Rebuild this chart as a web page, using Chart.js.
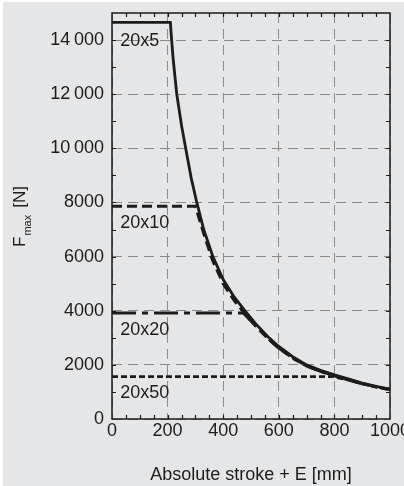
<!DOCTYPE html>
<html>
<head>
<meta charset="utf-8">
<script src="https://cdn.jsdelivr.net/npm/chart.js@4/dist/chart.umd.min.js"></script>
<style>
  html, body { margin: 0; padding: 0; background: #ffffff; }
  canvas { display: block; }
</style>
</head>
<body>
<canvas id="main-graph-canvas" width="404" height="486"></canvas>
<script>
// stroke [mm] / force [N]
const x20x5 = [0, 210, 213, 220, 233, 250, 265, 285, 305, 330, 363, 400, 440, 478, 520, 560, 600, 650, 700, 750, 800, 850, 900, 950, 1000]
const f20x5 = [14650, 14650, 14200, 13300, 12000, 10850, 10000, 8900, 8000, 7000, 6000, 5150, 4500, 4000, 3480, 3050, 2680, 2300, 2000, 1800, 1630, 1480, 1330, 1210, 1100]

const x20x10 = [0, 300, 330, 363, 400, 440, 478, 520, 560, 600, 650, 700, 750, 800, 850, 900, 950, 1000]
const f20x10 = [7860, 7860, 6850, 5830, 5000, 4370, 3890, 3400, 2980, 2620, 2250, 1960, 1760, 1600, 1450, 1310, 1190, 1090]

const x20x20 = [0, 472, 520, 560, 600, 650, 700, 750, 800, 850, 900, 950, 1000]
const f20x20 = [3915, 3915, 3410, 2990, 2620, 2250, 1960, 1760, 1600, 1450, 1300, 1185, 1085]

const x20x50 = [0, 790, 850, 900, 950, 1000]
const f20x50 = [1567, 1567, 1440, 1300, 1180, 1075]

const seriesNames = ['20x5', '20x10', '20x20', '20x50']

const xTicks = [0, 200, 400, 600, 800, 1000]
const xTickLabels = ['0', '200', '400', '600', '800', '1000']
const yTicks = [0, 2000, 4000, 6000, 8000, 10000, 12000, 14000]
const yTickLabels = ['0', '2000', '4000', '6000', '8000', '10\u2009000', '12\u2009000', '14\u2009000']

const INK = '#1c1c1c'
const BG = '#e5e6e8'
const FONT = '"Liberation Sans", Arial, sans-serif'

const toPoints = (xs, ys) => xs.map((x, i) => ({ x, y: ys[i] }))

// where the series names sit, in data units
const seriesLabelPos = [
  { x: 30, y: 13950 },
  { x: 30, y: 7250 },
  { x: 30, y: 3300 },
  { x: 30, y: 960 }
]

const framePlugin = {
  id: 'frame',
  beforeDraw(chart) {
    const ctx = chart.ctx
    ctx.save()
    ctx.fillStyle = '#ffffff'
    ctx.fillRect(0, 0, chart.width, chart.height)
    ctx.fillStyle = BG
    ctx.fillRect(3, 2, chart.width - 3, chart.height - 2)
    ctx.restore()
  },
  afterDraw(chart) {
    const { ctx, chartArea: a, scales } = chart
    const xs = scales.x
    const ys = scales.y
    ctx.save()
    ctx.strokeStyle = INK
    ctx.lineWidth = 1.5
    ctx.strokeRect(a.left, a.top, a.right - a.left, a.bottom - a.top)

    // inward ticks on all four sides
    ctx.lineWidth = 1.2
    ctx.beginPath()
    for (let v = 50; v < 1000; v += 50) {
      const px = Math.round(xs.getPixelForValue(v)) + 0.5
      ctx.moveTo(px, a.bottom); ctx.lineTo(px, a.bottom - 4)
      ctx.moveTo(px, a.top); ctx.lineTo(px, a.top + 4)
    }
    for (let v = 1000; v < 15000; v += 1000) {
      const py = Math.round(ys.getPixelForValue(v)) + 0.5
      ctx.moveTo(a.left, py); ctx.lineTo(a.left + 4, py)
      ctx.moveTo(a.right, py); ctx.lineTo(a.right - 4, py)
    }
    ctx.stroke()

    // series names
    ctx.fillStyle = INK
    ctx.font = '18px ' + FONT
    ctx.textBaseline = 'middle'
    ctx.textAlign = 'left'
    seriesNames.forEach((name, i) => {
      const p = seriesLabelPos[i]
      ctx.fillText(name, xs.getPixelForValue(p.x), ys.getPixelForValue(p.y))
    })

    // y title with subscript
    ctx.translate(25, 247)
    ctx.rotate(-Math.PI / 2)
    ctx.textBaseline = 'alphabetic'
    ctx.font = '17px ' + FONT
    ctx.fillText('F', 0, 0)
    let w = ctx.measureText('F').width + 1
    ctx.font = '11px ' + FONT
    ctx.fillText('max', w, 6)
    w += ctx.measureText('max').width + 7
    ctx.font = '17px ' + FONT
    ctx.fillText('[N]', w, 0)
    ctx.restore()
  }
}

const ctx = document.getElementById('main-graph-canvas').getContext('2d')

new Chart(ctx, {
  type: 'line',
  data: {
    datasets: [
      {
        label: seriesNames[0],
        data: toPoints(x20x5, f20x5),
        borderColor: INK,
        borderWidth: 2.8
      },
      {
        label: seriesNames[1],
        data: toPoints(x20x10, f20x10),
        borderColor: INK,
        borderWidth: 3,
        borderDash: [10, 5]
      },
      {
        label: seriesNames[2],
        data: toPoints(x20x20, f20x20),
        borderColor: INK,
        borderWidth: 3,
        borderDash: [24, 6, 6, 6]
      },
      {
        label: seriesNames[3],
        data: toPoints(x20x50, f20x50),
        borderColor: INK,
        borderWidth: 2.6,
        borderDash: [6, 3]
      }
    ]
  },
  options: {
    responsive: false,
    animation: false,
    devicePixelRatio: 1,
    layout: { padding: { top: 13, right: 14, left: 0, bottom: 0 } },
    elements: { line: { tension: 0, fill: false }, point: { radius: 0 } },
    plugins: { legend: { display: false }, tooltip: { enabled: false } },
    scales: {
      x: {
        type: 'linear',
        min: 0,
        max: 1000,
        afterBuildTicks: (scale) => { scale.ticks = xTicks.map((v) => ({ value: v })) },
        afterFit: (scale) => {
          scale.height = 67
          scale.paddingLeft = 0
          scale.paddingRight = 0
        },
        grid: { color: '#8a8a8a', lineWidth: 1, drawTicks: false },
        border: { display: false, dash: [10, 6] },
        ticks: {
          color: INK,
          font: { family: FONT, size: 18 },
          padding: 1,
          maxRotation: 0,
          autoSkip: false,
          callback: (val) => xTickLabels[xTicks.indexOf(val)]
        },
        title: {
          display: true,
          text: 'Absolute stroke + E [mm]',
          color: INK,
          font: { family: FONT, size: 18 },
          padding: { top: 0, bottom: 0 }
        }
      },
      y: {
        type: 'linear',
        min: 0,
        max: 15000,
        afterBuildTicks: (scale) => { scale.ticks = yTicks.map((v) => ({ value: v })) },
        afterFit: (scale) => {
          scale.width = 112
          scale.paddingTop = 0
          scale.paddingBottom = 0
        },
        grid: { color: '#8a8a8a', lineWidth: 1, drawTicks: false },
        border: { display: false, dash: [10, 6] },
        ticks: {
          color: INK,
          font: { family: FONT, size: 18 },
          padding: 8,
          autoSkip: false,
          callback: (val) => yTickLabels[yTicks.indexOf(val)]
        }
      }
    }
  },
  plugins: [framePlugin]
})
</script>
</body>
</html>
